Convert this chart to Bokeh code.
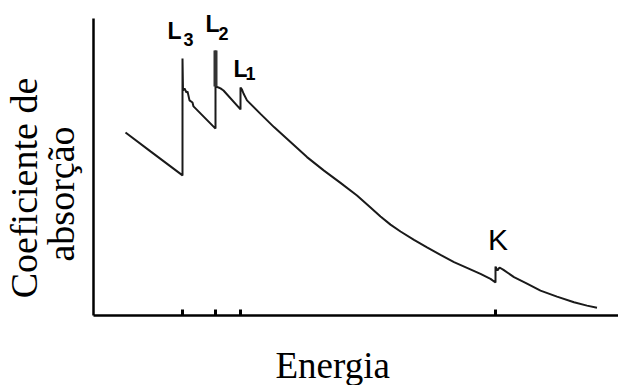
from math import pi

from bokeh.embed import file_html
from bokeh.models import Label, Range1d
from bokeh.plotting import figure
from bokeh.resources import INLINE

# Absorption spectrum (arbitrary units): energy vs absorption coefficient
energy = [6.4, 11.4, 17.8, 17.8, 17.9, 18.2, 18.6, 18.8, 19.2, 19.8, 20.0,
          24.4, 24.4, 24.5, 25.0, 25.4, 26.0, 29.4, 29.4, 29.7, 30.0, 30.7,
          33.4, 36.1, 39.4, 42.7, 46.1, 49.4, 52.7, 55.4, 57.4, 59.4, 61.4,
          64.1, 66.7, 69.4, 72.1, 74.7, 77.4, 79.4, 80.4, 80.4, 80.8, 81.2,
          82.0, 84.1, 86.7, 89.4, 92.7, 96.1, 98.7, 100.7]
absorption = [61.0, 54.7, 46.7, 85.7, 75.0, 75.7, 74.3, 74.7, 71.7, 71.0, 69.7,
              62.3, 88.3, 76.3, 76.0, 75.7, 75.0, 68.7, 76.0, 75.3, 74.0, 71.7,
              67.2, 62.8, 57.8, 52.8, 48.3, 44.2, 40.0, 36.0, 33.0, 30.3, 28.0,
              25.2, 22.7, 20.2, 17.8, 15.9, 13.9, 12.2, 11.0, 16.3, 15.0, 16.0,
              15.2, 12.8, 10.6, 8.3, 6.3, 4.4, 3.3, 2.6]

# Absorption edges
edge_letter = ["L", "L", "L", "K"]
edge_sub = ["3", "2", "1", ""]
edge_energy = [17.8, 24.4, 29.4, 80.4]

x_title = "Energia"
y_title = ["Coeficiente de", "absorção"]

# axis extents (data units)
x_end = 105.0
y_top = 99.0

p = figure(width=618, height=385, output_backend="svg", toolbar_location=None,
           x_range=Range1d(-18.6, x_end), y_range=Range1d(-23.33, 105.0),
           x_axis_type=None, y_axis_type=None,
           min_border=0)
p.outline_line_color = None
p.grid.visible = False
p.background_fill_color = "white"
p.border_fill_color = "white"

# Axis lines drawn from the origin
p.segment(x0=[0, 0], y0=[0, 0], x1=[x_end, 0], y1=[0, y_top],
          line_color="black", line_width=2.5)
# Edge markers on the energy axis
p.segment(x0=edge_energy, y0=[0] * len(edge_energy), x1=edge_energy,
          y1=[2.0] * len(edge_energy), line_color="black", line_width=3)

p.line(energy, absorption, line_color="#1a1a1a", line_width=2)
# heavier stroke on the L2 spike
p.segment(x0=[edge_energy[1]], y0=[absorption[13]], x1=[edge_energy[1]],
          y1=[absorption[12]], line_color="#333333", line_width=4)

# Edge labels with subscripts
letter_pos = [(-3.0, 95.0), (-2.0, 97.3), (-1.4, 82.3), (-1.5, 25.2)]
sub_pos = [(0.2, 92.0), (0.6, 94.0), (1.0, 80.7)]
for i, e in enumerate(edge_energy):
    dx, y = letter_pos[i]
    is_k = edge_letter[i] == "K"
    p.add_layout(Label(x=e + dx, y=y, text=edge_letter[i],
                       text_font="Liberation Sans",
                       text_font_size="30px" if is_k else "23px",
                       text_font_style="normal" if is_k else "bold",
                       text_color="black", text_align="left",
                       text_baseline="alphabetic"))
    if edge_sub[i]:
        sdx, sy = sub_pos[i]
        p.add_layout(Label(x=e + sdx, y=sy, text=edge_sub[i],
                           text_font="Liberation Sans", text_font_size="18px",
                           text_font_style="bold", text_color="black",
                           text_align="left", text_baseline="alphabetic"))

# Axis titles
p.add_layout(Label(x=36.4, y=-16.67, text=x_title,
                   text_font="Liberation Serif", text_font_size="37px",
                   text_color="black", text_align="left",
                   text_baseline="alphabetic"))
p.add_layout(Label(x=-14.0, y=42.5, text=y_title[0], angle=pi / 2,
                   text_font="Liberation Serif", text_font_size="38px",
                   text_color="black", text_align="center",
                   text_baseline="alphabetic"))
p.add_layout(Label(x=-6.6, y=40.5, text=y_title[1], angle=pi / 2,
                   text_font="Liberation Serif", text_font_size="38px",
                   text_color="black", text_align="center",
                   text_baseline="alphabetic"))

open("out.html", "w").write(file_html(p, INLINE))
